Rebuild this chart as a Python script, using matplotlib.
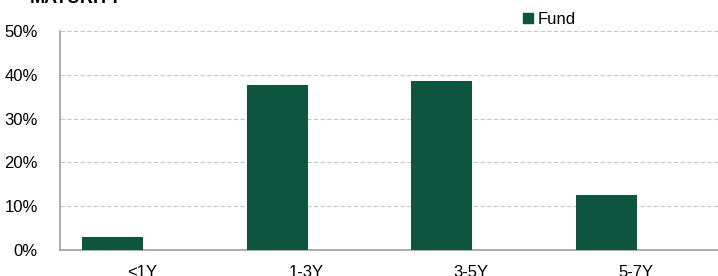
import numpy as np
import matplotlib.pyplot as plt
from matplotlib.patches import Patch

plt.rcParams['font.family'] = ['Liberation Sans', 'DejaVu Sans']

categories = ['<1Y', '1-3Y', '3-5Y', '5-7Y']
fund = [3.0, 37.7, 38.6, 12.6]

green = '#0e5540'

fig = plt.figure(figsize=(7.18, 2.76), dpi=100)
ax = fig.add_axes([0.0836, 0.0942, 0.9164, 0.7935])

x = np.arange(len(categories))
ax.bar(x - 0.18, fund, width=0.37, color=green, zorder=3)

ax.set_xlim(-0.5, 3.5)
ax.set_ylim(0, 50)
ax.set_yticks(np.arange(0, 51, 10))
ax.set_yticklabels([f'{v}%' for v in range(0, 51, 10)], fontsize=12)
ax.set_xticks(x)
ax.set_xticklabels(categories, fontsize=12)
ax.tick_params(axis='both', length=0)
ax.tick_params(axis='x', pad=11)
ax.tick_params(axis='y', pad=16)

ax.yaxis.grid(True, linestyle=(0, (4, 2)), color='#c8c8c8', linewidth=0.8, zorder=0)
for s in ['top', 'right']:
    ax.spines[s].set_visible(False)
for s in ['left', 'bottom']:
    ax.spines[s].set_color('#a0a0a0')
    ax.spines[s].set_linewidth(1.2)

ax.legend(handles=[Patch(color=green, label='Fund')], loc='upper left',
          bbox_to_anchor=(0.691, 1.125), frameon=False, fontsize=12,
          handlelength=0.6, handleheight=0.6, handletextpad=0.3, borderpad=0)

fig.text(0.042, 1 - 3 / 276, 'MATURITY', fontsize=13, fontweight='bold',
         va='baseline', ha='left')

fig.savefig('out.png', dpi=100)
